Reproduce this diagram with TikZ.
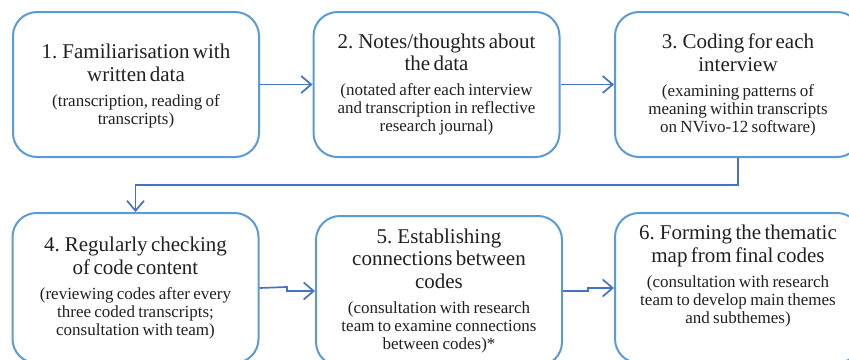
\documentclass[tikz,border=0pt]{standalone}
\usepackage{fontspec}
\setmainfont{Liberation Serif}
\usetikzlibrary{arrows.meta,calc}
\definecolor{boxblue}{HTML}{5B9BD5}
\definecolor{arrblue}{HTML}{4472C4}
\definecolor{txtcol}{HTML}{231F20}
\newcommand{\ttl}[1]{{\fontsize{21}{22.5}\selectfont #1\par}}
\newcommand{\subt}[1]{\vspace{7pt}{\fontsize{17}{18}\selectfont #1\par}}
\begin{document}
\begin{tikzpicture}[x=1pt,y=-1pt,
  stepbox/.style={draw=boxblue,line width=2pt,rounded corners=24pt,minimum width=246pt,minimum height=145pt,inner sep=0pt},
  lowbox/.style={stepbox,minimum height=150pt},
  txt/.style={text=txtcol,align=center,text width=240pt,inner sep=0pt},
  conn/.style={draw=arrblue,line width=1.7pt,-{Straight Barb[length=10pt,width=17pt,line width=1.7pt]}}
]
\useasboundingbox (0,0) rectangle (849,359);
% boxes
\node[stepbox] (b1) at (136,84.5) {};
\node[stepbox] (b2) at (436.5,84.5) {};
\node[stepbox] (b3) at (738,84.5) {};
\node[lowbox] (b4) at (135.5,288) {};
\node[lowbox] (b5) at (439,291) {};
\node[lowbox] (b6) at (738,288) {};
% texts
\node[txt] (t1) at ($(b1.center)+(0,1.5)$) {\ttl{1. Familiarisation with\\written data}\subt{(transcription, reading of\\transcripts)}};
\node[txt] (t2) at ($(b2.center)+(0,0)$) {\ttl{2. Notes/thoughts about\\the data}\subt{(notated after each interview\\and transcription in reflective\\research journal)}};
\node[txt] (t3) at ($(b3.center)+(0,0.5)$) {\ttl{3. Coding for each\\interview}\subt{(examining patterns of\\meaning within transcripts\\on NVivo-12 software)}};
\node[txt] (t4) at ($(b4.center)+(0,0)$) {\ttl{4. Regularly checking\\of code content}\subt{(reviewing codes after every\\three coded transcripts;\\consultation with team)}};
\node[txt] (t5) at ($(b5.center)+(0,0)$) {\ttl{5. Establishing\\connections between\\codes}\subt{(consultation with research\\team to examine connections\\between codes)*}};
\node[txt] (t6) at ($(b6.center)+(0,-12)$) {\ttl{6. Forming the thematic\\map from final codes}\subt{(consultation with research\\team to develop main themes\\and subthemes)}};
% connectors
\draw[conn] (b1.east) -- (b2.west);
\draw[conn] (b2.east) -- (b3.west);
\coordinate (elbow) at (738,185);
\draw[conn] (b3.south) -- (elbow) -| (b4.north);
\coordinate (j45) at (287,287);
\draw[conn] (b4.east) -- (j45) |- (b5.west);
\coordinate (j56) at (588,291);
\draw[conn] (b5.east) -- (j56) |- (b6.west);
\end{tikzpicture}
\end{document}
